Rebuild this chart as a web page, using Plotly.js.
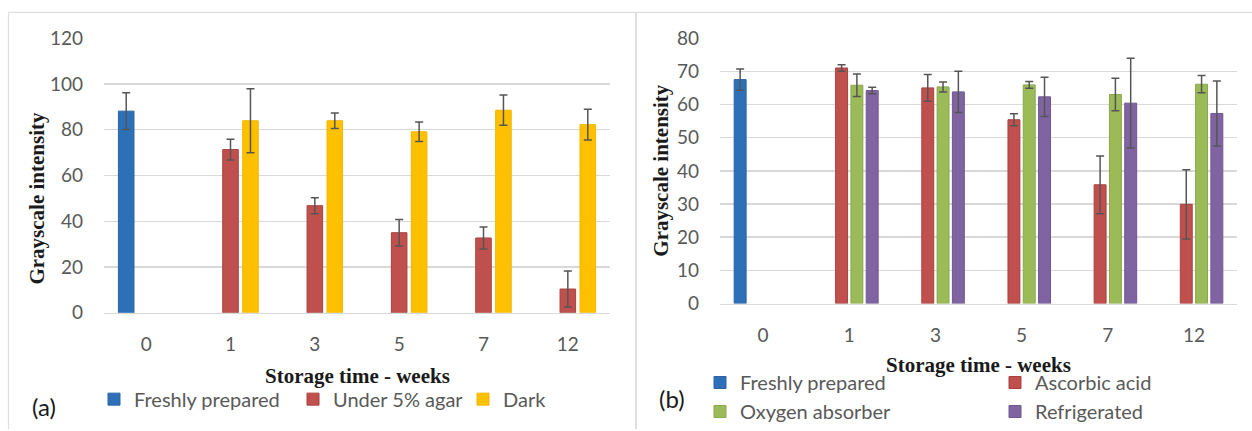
<!DOCTYPE html>
<html>
<head>
<meta charset="utf-8">
<script src="https://cdn.plot.ly/plotly-3.0.1.min.js"></script>
<style>html,body{margin:0;padding:0;background:#fff;}#chart{width:1252px;height:431px;}</style>
</head>
<body>
<div id="chart"></div>
<script>
// ---- data ----
const categories = ['0', '1', '3', '5', '7', '12'];

// panel (a)
const freshA = [88.1, null, null, null, null, null];
const freshAErr = [8.0, null, null, null, null, null];
const agar = [null, 71.3, 46.8, 35.0, 32.7, 10.4];
const agarErr = [null, 4.5, 3.5, 5.8, 4.8, 7.9];
const dark = [null, 83.9, 83.9, 79.1, 88.5, 82.2];
const darkErr = [null, 14.0, 3.4, 4.3, 6.6, 6.7];

// panel (b)
const freshB = [67.5, null, null, null, null, null];
const freshBErr = [3.2, null, null, null, null, null];
const ascorbic = [null, 71.0, 65.0, 55.4, 35.8, 29.9];
const ascorbicErr = [null, 1.0, 4.0, 1.8, 8.7, 10.4];
const oxygen = [null, 65.8, 65.3, 65.9, 63.0, 66.1];
const oxygenErr = [null, 3.4, 1.5, 1.0, 4.9, 2.6];
const fridge = [null, 64.2, 63.8, 62.3, 60.4, 57.3];
const fridgeErr = [null, 1.0, 6.2, 5.9, 13.5, 9.8];

const seriesNames = ['Freshly prepared', 'Under 5% agar', 'Dark', 'Ascorbic acid', 'Oxygen absorber', 'Refrigerated'];
const xTitle = 'Storage time - weeks';
const yTitle = 'Grayscale intensity';

// ---- styles ----
const W = 1252, H = 431;
const px = v => v / W;
const py = v => 1 - v / H;
const BLUE = '#2e70b7', RED = '#c0504d', YEL = '#ffc000', GRN = '#9bbb59', PUR = '#8064a2';
const TICK = '#595959';
const GRID = '#d9d9d9';
const sans = 'Lato, "Open Sans", sans-serif';
const serif = '"Liberation Serif", "DejaVu Serif", serif';

function bar(name, y, err, color, line, xa, ya, legend) {
  return {
    type: 'bar', name: name, x: categories, y: y,
    xaxis: xa, yaxis: ya, legend: legend, showlegend: true,
    marker: {color: color, line: {color: line, width: 1}},
    error_y: {type: 'data', array: err, visible: true, color: '#555555', thickness: 1.5, width: 4},
    hoverinfo: 'skip'
  };
}

const data = [
  bar(seriesNames[0], freshA, freshAErr, BLUE, '#2a63a6', 'x', 'y', 'legend'),
  bar(seriesNames[1], agar, agarErr, RED, '#a9403d', 'x', 'y', 'legend2'),
  bar(seriesNames[2], dark, darkErr, YEL, '#f2b600', 'x', 'y', 'legend3'),
  bar(seriesNames[0], freshB, freshBErr, BLUE, '#2a63a6', 'x2', 'y2', 'legend4'),
  bar(seriesNames[3], ascorbic, ascorbicErr, RED, '#a9403d', 'x2', 'y2', 'legend5'),
  bar(seriesNames[4], oxygen, oxygenErr, GRN, '#8aa84c', 'x2', 'y2', 'legend4'),
  bar(seriesNames[5], fridge, fridgeErr, PUR, '#6f5690', 'x2', 'y2', 'legend5')
];

const xCommon = {
  type: 'category', showgrid: false, zeroline: false,
  showline: true, linecolor: GRID, linewidth: 1.5,
  ticks: '', ticklabelstandoff: 14,
  tickfont: {family: sans, size: 19, color: TICK}, fixedrange: true
};
const yCommon = {
  showgrid: true, gridcolor: GRID, gridwidth: 1.5, zeroline: false,
  showline: false, ticks: '', ticklabelstandoff: 20,
  tickfont: {family: sans, size: 19, color: TICK}, fixedrange: true
};

const legendCommon = {
  orientation: 'v', xanchor: 'left', yanchor: 'middle',
  font: {family: sans, size: 20, color: TICK},
  bgcolor: 'rgba(0,0,0,0)', borderwidth: 0,
  itemclick: false, itemdoubleclick: false, traceorder: 'normal'
};
function leg(x, y) { return Object.assign({}, legendCommon, {x: px(x), y: py(y)}); }

const titleFont = {family: serif, size: 21, color: '#1a1a1a'};
const labelFont = {family: sans, size: 24, color: '#1a1a1a'};

const layout = {
  width: W, height: H, autosize: false,
  margin: {l: 0, r: 0, t: 0, b: 0, pad: 0},
  paper_bgcolor: '#ffffff', plot_bgcolor: '#ffffff',
  barmode: 'group', bargap: 0.29, bargroupgap: 0.22,
  xaxis: Object.assign({}, xCommon, {domain: [px(104), px(610)], anchor: 'y'}),
  yaxis: Object.assign({}, yCommon, {domain: [py(314.3), py(38.3)], range: [0, 120], dtick: 20, anchor: 'x'}),
  xaxis2: Object.assign({}, xCommon, {domain: [px(720), px(1237)], anchor: 'y2'}),
  yaxis2: Object.assign({}, yCommon, {domain: [py(305), py(38.3)], range: [0, 80], dtick: 10, anchor: 'x2'}),
  legend: leg(94, 401),
  legend2: leg(293, 401),
  legend3: leg(463, 401),
  legend4: leg(700, 399),
  legend5: leg(995, 399),
  annotations: [
    {text: '<b>' + yTitle + '</b>', xref: 'paper', yref: 'paper', x: px(37.5), y: py(199), textangle: -90,
     showarrow: false, xanchor: 'center', yanchor: 'middle', font: titleFont},
    {text: '<b>' + yTitle + '</b>', xref: 'paper', yref: 'paper', x: px(661.5), y: py(171), textangle: -90,
     showarrow: false, xanchor: 'center', yanchor: 'middle', font: titleFont},
    {text: '<b>' + xTitle + '</b>', xref: 'paper', yref: 'paper', x: px(357), y: py(378),
     showarrow: false, xanchor: 'center', yanchor: 'middle', font: titleFont},
    {text: '<b>' + xTitle + '</b>', xref: 'paper', yref: 'paper', x: px(978), y: py(367),
     showarrow: false, xanchor: 'center', yanchor: 'middle', font: titleFont},
    {text: '(a)', xref: 'paper', yref: 'paper', x: px(43.5), y: py(408),
     showarrow: false, xanchor: 'center', yanchor: 'middle', font: labelFont},
    {text: '(b)', xref: 'paper', yref: 'paper', x: px(672), y: py(400),
     showarrow: false, xanchor: 'center', yanchor: 'middle', font: labelFont}
  ],
  shapes: [
    {type: 'line', xref: 'paper', yref: 'paper', x0: px(8.5), x1: 1, y0: py(12.5), y1: py(12.5), line: {color: '#dedede', width: 1.2}},
    {type: 'line', xref: 'paper', yref: 'paper', x0: px(8.5), x1: px(8.5), y0: py(12.5), y1: 0, line: {color: '#dedede', width: 1.2}},
    {type: 'line', xref: 'paper', yref: 'paper', x0: px(636), x1: px(636), y0: py(12.5), y1: 0, line: {color: '#d6d6d6', width: 1.5}}
  ]
};

Plotly.newPlot('chart', data, layout, {staticPlot: true, displayModeBar: false});
</script>
</body>
</html>
